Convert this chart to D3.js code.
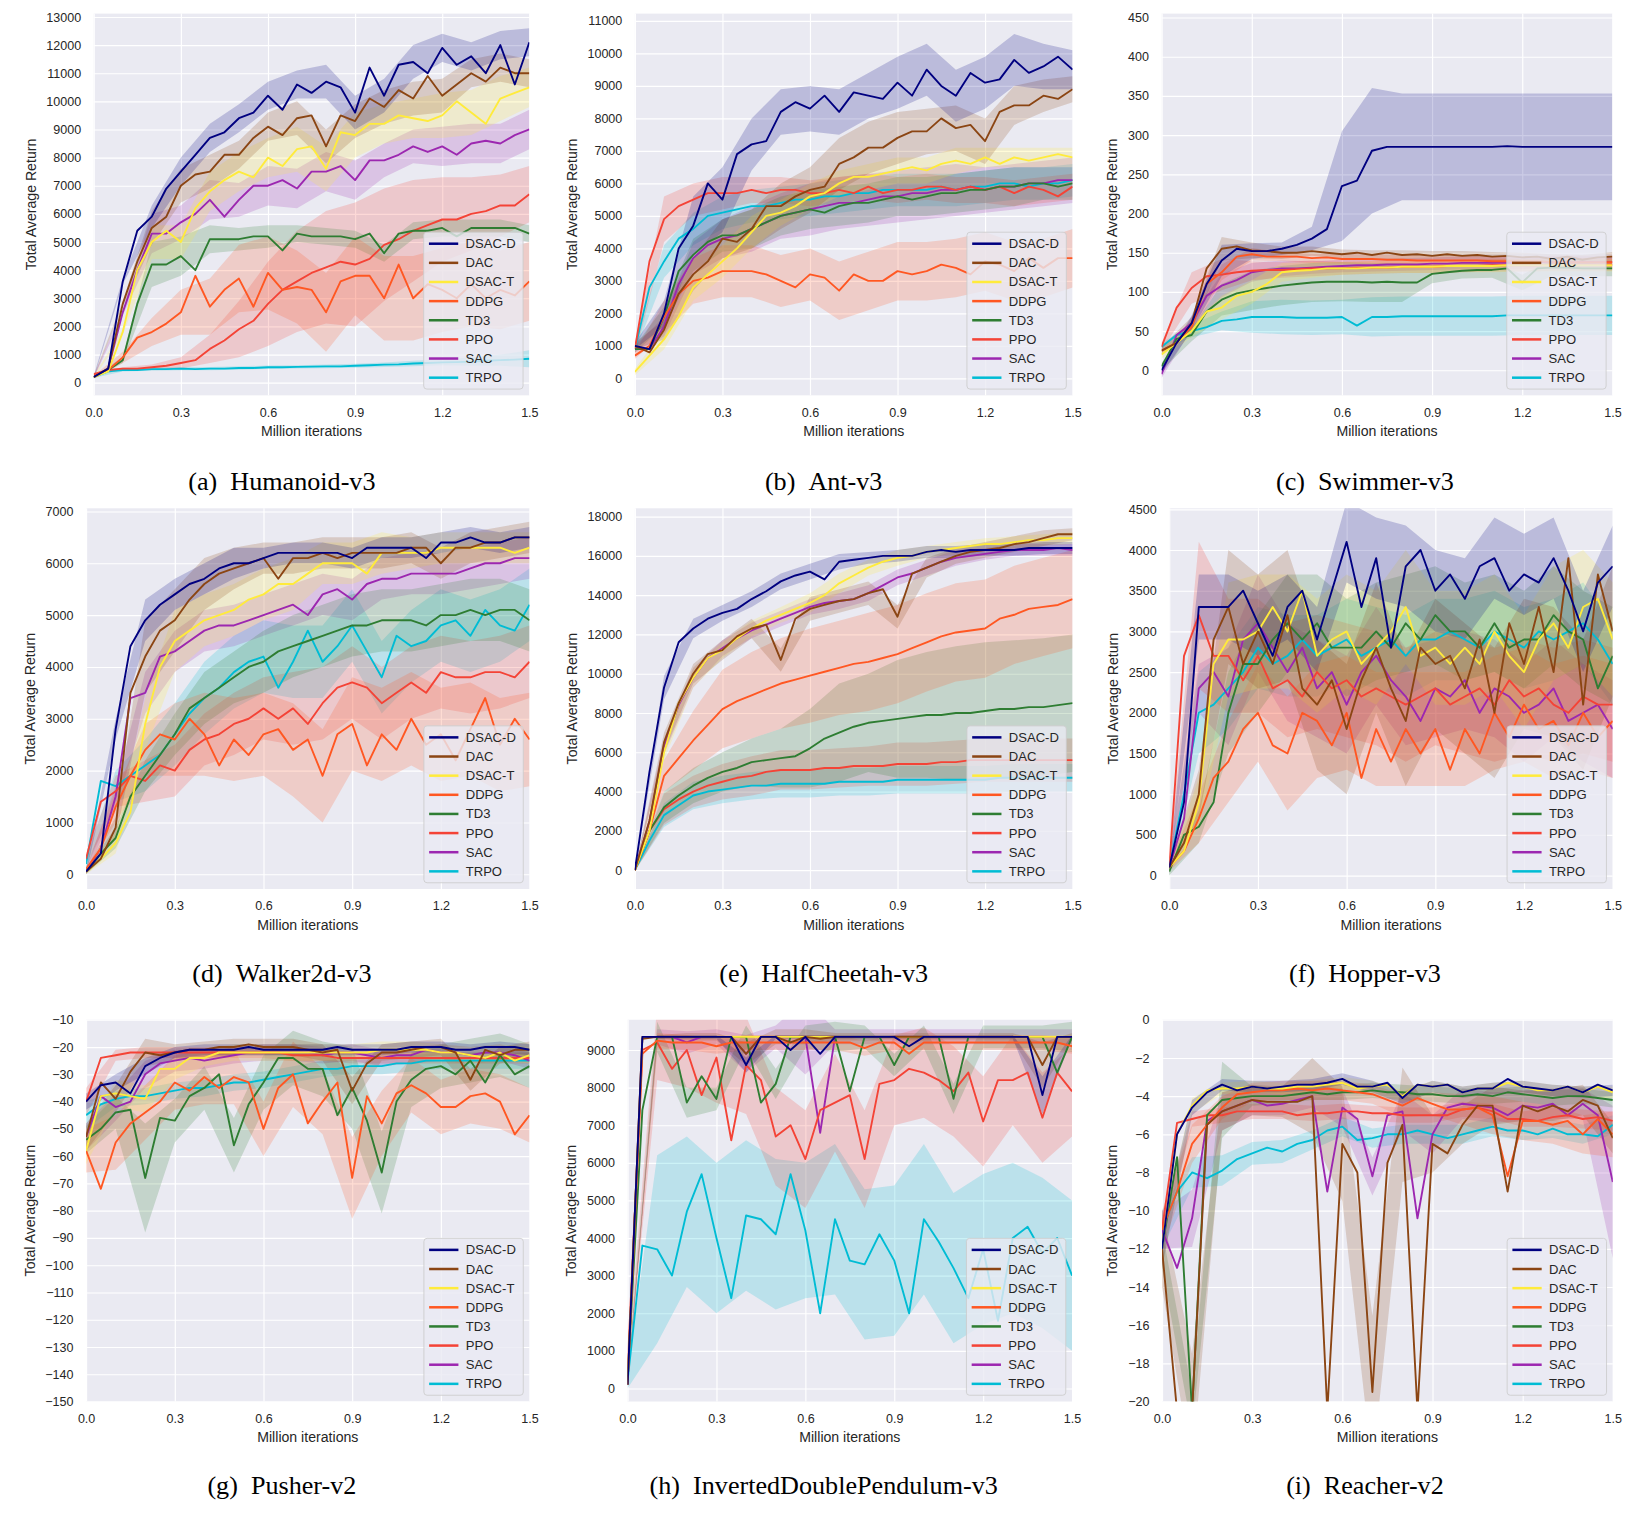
<!DOCTYPE html>
<html lang="en">
<head>
<meta charset="UTF-8">
<title>Training curves on MuJoCo benchmarks</title>
<script src="https://d3js.org/d3.v7.min.js"></script>
<style>
    body { margin: 0; background: #fff; }
    text { font-family: "Liberation Sans", Arial, sans-serif; fill: #262626; }
    .caption { font-family: "Liberation Serif", "Times New Roman", serif; fill: #000; }
</style>
</head>
<body>
<svg id="fig"></svg>
<script>
// ---- data ----
const iterations = [0,0.05,0.1,0.15,0.2,0.25,0.3,0.35,0.4,0.45,0.5,0.55,0.6,0.65,0.7,0.75,0.8,0.85,0.9,0.95,1.0,1.05,1.1,1.15,1.2,1.25,1.3,1.35,1.4,1.45,1.5];
const spreadIterations = [0,0.1,0.2,0.3,0.4,0.5,0.6,0.7,0.8,0.9,1.0,1.1,1.2,1.3,1.4,1.5];
const algorithms = ["DSAC-D", "DAC", "DSAC-T", "DDPG", "TD3", "PPO", "SAC", "TRPO"];
const environments = ["Humanoid-v3", "Ant-v3", "Swimmer-v3", "Walker2d-v3", "HalfCheetah-v3", "Hopper-v3", "Pusher-v2", "InvertedDoublePendulum-v3", "Reacher-v2"];
const panelLetters = ["a", "b", "c", "d", "e", "f", "g", "h", "i"];
const xTicks = [0, 0.3, 0.6, 0.9, 1.2, 1.5];

const humanoidTicks = [0,1000,2000,3000,4000,5000,6000,7000,8000,9000,10000,11000,12000,13000];
const antTicks = [0,1000,2000,3000,4000,5000,6000,7000,8000,9000,10000,11000];
const swimmerTicks = [0,50,100,150,200,250,300,350,400,450];
const walkerTicks = [0,1000,2000,3000,4000,5000,6000,7000];
const cheetahTicks = [0,2000,4000,6000,8000,10000,12000,14000,16000,18000];
const hopperTicks = [0,500,1000,1500,2000,2500,3000,3500,4000,4500];
const pusherTicks = [-150,-140,-130,-120,-110,-100,-90,-80,-70,-60,-50,-40,-30,-20,-10];
const pendulumTicks = [0,1000,2000,3000,4000,5000,6000,7000,8000,9000];
const reacherTicks = [-20,-18,-16,-14,-12,-10,-8,-6,-4,-2,0];

// mean return per algorithm (order of `algorithms`), one value per entry of `iterations`
const humanoidMean = [
  [200,500,3600,5400,5900,6900,7500,8100,8700,8900,9400,9600,10200,9700,10600,10300,10700,10500,9600,11200,10200,11300,11400,11000,11900,11300,11600,11000,12000,10600,12100],
  [200,500,2800,4300,5500,5900,7000,7400,7500,8100,8100,8700,9100,8800,9400,9500,8400,9500,9300,10100,9800,10400,10100,10900,10200,10600,11000,10700,11200,11000,11000],
  [200,400,1800,4000,5000,5400,5000,6200,6800,7200,7500,7300,8000,7700,8300,8400,7600,8900,8800,9200,9200,9500,9400,9300,9500,10000,9600,9200,10100,10300,10500],
  [200,450,900,1600,1800,2100,2500,3800,2700,3300,3700,2700,3900,3300,3400,3300,2500,3600,3800,3800,3000,4200,3000,3500,3300,3000,3500,3000,3300,3100,3600],
  [200,450,800,2800,4200,4200,4500,4000,5100,5100,5100,5200,5200,4700,5300,5200,5200,5200,5100,5300,4600,5300,5400,5400,5500,5200,5500,5500,5500,5500,5300],
  [300,450,500,500,550,600,700,800,1200,1500,1900,2200,2800,3300,3600,3900,4100,4300,4200,4400,4900,5100,5400,5600,5800,5800,6000,6100,6300,6300,6700],
  [200,500,2500,4000,5300,5300,5700,6000,6500,5900,6500,7000,7000,7200,6900,7500,7500,7700,7200,7900,7900,8100,8400,8200,8400,8100,8500,8600,8500,8800,9000],
  [200,400,450,450,480,480,500,480,500,500,520,520,550,550,560,570,580,580,600,620,640,650,680,700,720,730,750,780,800,820,850]
];
// half-width of the shaded band, one value per entry of `spreadIterations`
const humanoidSpread = [
  [50,100,400,500,500,500,500,500,600,600,600,600,500,500,500,500],
  [50,100,600,600,600,500,500,600,600,600,600,600,600,500,500,500],
  [50,100,600,600,700,700,700,800,800,800,700,700,800,800,800,700],
  [50,200,500,800,1000,1200,1300,1300,1400,1400,1500,1500,1500,1500,1400,1400],
  [50,100,800,700,500,400,400,300,300,300,300,300,300,300,300,300],
  [50,50,100,200,500,1000,1500,1800,2000,2200,2000,1800,1500,1300,1100,1000],
  [50,100,700,600,700,600,700,700,700,700,600,600,700,700,700,700],
  [30,50,60,60,60,60,60,60,70,70,80,100,100,150,200,300]
];

const antMean = [
  [1000,900,2000,4000,4700,6000,5500,6900,7200,7300,8200,8500,8300,8700,8200,8800,8700,8600,9100,8700,9500,9000,8700,9400,9100,9200,9800,9400,9600,9900,9500],
  [1000,800,1500,2600,3200,3600,4300,4200,4600,5300,5300,5600,5800,5900,6600,6800,7100,7100,7400,7600,7600,8000,7700,7800,7300,8200,8400,8400,8700,8600,8900],
  [200,700,1200,1900,2800,3200,3600,4000,4500,5000,5100,5300,5600,5700,6000,6200,6200,6300,6400,6500,6400,6600,6700,6600,6800,6600,6800,6700,6800,6900,6800],
  [700,1000,1900,2600,3000,3100,3300,3300,3300,3200,3000,2800,3200,3100,2700,3200,3000,3000,3300,3200,3300,3500,3400,3200,3600,3500,3300,3700,3400,3700,3700],
  [900,900,1900,3300,3800,4200,4400,4400,4600,4800,5000,5100,5200,5100,5300,5400,5400,5500,5600,5500,5600,5700,5700,5800,5800,5900,5900,6000,6000,5900,6000],
  [900,3600,4900,5300,5500,5700,5700,5700,5800,5700,5800,5800,5700,5700,5800,5700,5900,5700,5800,5800,5900,5900,5800,5900,5800,5900,5700,5900,5800,5600,5900],
  [900,900,1600,2900,3700,4100,4300,4400,4600,4800,5000,5100,5200,5300,5400,5400,5500,5600,5600,5700,5700,5800,5800,5900,5800,5900,5900,6000,6000,6100,6100],
  [900,2800,3600,4300,4600,5000,5100,5200,5300,5300,5400,5500,5500,5600,5600,5700,5700,5800,5800,5800,5800,5900,5800,5900,5900,6000,6000,5900,6000,6000,6100]
];
const antSpread = [
  [100,400,900,1000,800,700,700,700,700,800,800,800,800,800,700,600],
  [100,300,500,600,600,700,700,800,800,800,700,700,700,600,500,400],
  [100,300,400,500,500,400,400,400,400,400,400,400,300,300,300,300],
  [100,500,700,800,800,800,800,900,900,900,900,900,900,900,900,900],
  [100,300,500,500,600,600,600,600,600,600,600,600,600,600,500,500],
  [200,700,500,500,400,400,400,400,400,400,400,400,400,400,400,400],
  [100,300,500,600,700,700,800,800,800,800,800,800,700,700,700,700],
  [100,500,500,500,500,500,500,500,500,500,500,500,500,500,500,500]
];

const swimmerMean = [
  [0,35,60,110,140,155,152,152,155,160,168,180,235,242,280,285,285,285,285,285,285,285,285,286,285,285,285,285,285,285,285],
  [25,35,60,130,155,158,153,152,150,150,152,150,148,150,147,150,147,148,146,148,146,147,145,146,144,145,142,145,141,144,145],
  [20,35,50,75,80,95,100,110,125,127,128,130,130,130,131,131,132,132,132,133,133,133,133,134,134,134,134,134,134,134,134],
  [25,35,55,110,125,145,148,145,145,145,143,144,142,142,142,141,141,140,140,140,140,140,139,139,139,139,138,138,138,138,138],
  [5,40,45,75,90,98,102,105,108,110,112,113,113,113,112,113,112,112,123,125,127,128,128,130,112,130,131,131,130,130,130],
  [30,80,105,120,122,125,127,128,128,129,130,130,130,131,131,131,132,132,132,133,133,133,134,134,134,134,135,135,135,135,135],
  [-5,45,60,95,108,115,125,128,130,130,131,132,133,134,134,135,135,135,136,136,137,137,137,137,137,138,138,138,138,138,138],
  [30,45,50,55,63,65,68,68,68,67,67,67,68,57,68,68,69,69,69,69,69,69,69,70,70,70,70,70,70,70,70]
];
const swimmerSpread = [
  [5,10,20,10,8,15,70,80,68,68,68,68,68,68,68,68],
  [5,8,15,10,8,6,6,6,6,6,6,6,6,6,6,6],
  [5,8,15,15,12,10,8,8,8,8,8,8,8,8,8,8],
  [5,8,10,8,6,6,6,6,6,6,6,6,6,6,6,6],
  [5,8,20,25,25,25,25,25,25,12,10,10,10,10,10,10],
  [5,20,20,12,10,10,8,8,8,8,8,8,8,8,8,8],
  [5,8,15,12,10,8,8,8,8,8,8,8,8,8,8,8],
  [5,8,12,20,22,22,22,25,25,25,25,25,25,25,25,25]
];

const walkerMean = [
  [50,400,2800,4400,4900,5200,5400,5600,5700,5900,6000,6000,6100,6200,6200,6200,6200,6200,6100,6300,6300,6300,6300,6100,6400,6400,6500,6400,6400,6500,6500],
  [50,300,900,3500,4200,4700,4900,5300,5600,5800,5900,6000,6100,5700,6100,6100,6200,6100,6200,6200,6200,6200,6300,6300,6000,6300,6300,6400,6400,6500,6500],
  [50,300,600,1200,2900,4000,4500,4700,4900,5000,5100,5300,5400,5600,5600,5800,6000,6000,6000,5800,6200,6200,6200,6200,6300,6300,6300,6300,6300,6200,6300],
  [100,500,1300,1900,2400,2700,2600,3000,2700,2100,2600,2300,2700,2800,2400,2600,1900,2700,2900,2100,2700,2400,3000,2500,2700,2200,2800,3400,2500,3000,2600],
  [50,400,700,1500,1900,2300,2700,3200,3400,3600,3800,4000,4100,4300,4400,4500,4600,4700,4800,4800,4900,4900,4900,4800,5000,5000,5100,5000,5100,5100,4900],
  [300,1400,1600,1900,1800,2100,2000,2400,2600,2700,2900,3000,3200,3000,3200,2900,3300,3600,3700,3600,3300,3500,3700,3500,3900,3800,3800,3900,3900,3800,4100],
  [50,500,1500,3400,3500,4200,4300,4500,4700,4800,4800,4900,5000,5100,5200,5000,5400,5500,5300,5600,5700,5700,5800,5800,5800,5800,5900,6000,6000,6100,6100],
  [200,1800,1700,1900,2100,2300,2700,3100,3400,3600,3900,4100,4200,3600,4100,4700,4100,4400,4800,4300,3800,4600,4400,4500,4800,4900,4600,5100,4800,4700,5200]
];
const walkerSpread = [
  [50,200,400,300,300,300,200,200,200,200,200,200,200,200,200,200],
  [50,200,700,600,500,400,300,300,300,300,300,300,300,300,300,300],
  [50,200,500,600,500,500,500,500,400,400,400,300,300,300,300,300],
  [50,300,500,700,800,800,800,900,900,900,900,900,900,900,900,900],
  [50,200,300,400,500,500,600,600,600,600,600,600,600,600,600,600],
  [100,300,400,500,500,600,600,700,700,700,700,700,700,700,700,700],
  [50,200,400,400,400,400,400,400,400,400,400,400,400,400,400,400],
  [100,300,500,600,700,700,700,700,700,700,700,700,700,700,700,700]
];

const cheetahMean = [
  [0,5000,9300,11600,12300,12800,13100,13300,13800,14200,14700,15000,15200,14800,15700,15800,15900,16000,16000,16000,16200,16300,16200,16300,16300,16300,16300,16400,16400,16400,16400],
  [0,2500,6500,8500,10000,11000,11200,11900,12300,12500,10700,12800,13300,13500,13700,13800,14100,14300,12900,15100,15400,15700,16000,16200,16300,16400,16600,16700,16900,17100,17100],
  [0,2000,6000,8500,9800,10800,11200,11800,12300,12700,13000,13300,13600,14000,14600,15000,15400,15700,15900,16000,16200,16300,16400,16500,16600,16600,16700,16800,16800,16900,16900],
  [0,2000,4800,5700,6600,7400,8200,8600,8900,9200,9500,9700,9900,10100,10300,10500,10600,10800,11000,11300,11600,11900,12100,12200,12300,12800,13000,13300,13400,13500,13800],
  [0,2000,3200,3800,4300,4700,5000,5200,5500,5600,5700,5800,6200,6700,7000,7300,7500,7600,7700,7800,7900,7900,8000,8000,8100,8200,8200,8300,8300,8400,8500],
  [0,2000,3100,3600,4000,4300,4500,4700,4800,5000,5100,5100,5100,5200,5200,5300,5300,5300,5400,5400,5400,5500,5500,5600,5600,5600,5600,5600,5600,5600,5600],
  [0,2500,6300,8400,9800,10800,11300,11800,12200,12500,12800,13100,13400,13600,13700,13800,14100,14500,14900,15100,15400,15700,15900,16000,16100,16200,16300,16300,16300,16400,16300],
  [0,1500,2800,3300,3800,4000,4100,4200,4300,4300,4400,4400,4400,4400,4500,4500,4500,4500,4600,4600,4600,4600,4600,4600,4600,4700,4700,4700,4700,4700,4700]
];
const cheetahSpread = [
  [50,600,500,400,400,400,400,400,300,300,300,300,300,300,300,300],
  [50,500,500,500,500,600,600,600,600,600,500,400,400,400,400,300],
  [50,400,500,400,400,400,500,500,400,400,300,300,300,300,300,300],
  [50,800,1500,2000,2200,2300,2400,2400,2500,2500,2500,2500,2500,2500,2500,2500],
  [50,800,900,1000,1200,1500,2000,2500,2500,3000,3200,3400,3500,3500,3500,3500],
  [50,800,800,900,1000,1000,1000,1000,1000,1100,1100,1100,1100,1100,1100,1100],
  [50,400,500,400,400,400,400,400,400,400,400,400,300,300,300,300],
  [50,600,700,700,700,700,700,700,700,700,700,700,700,700,700,700]
];

const hopperMean = [
  [100,900,3300,3300,3300,3500,3100,2700,3300,3500,2900,3500,4100,3300,3900,2800,3800,4000,3500,3700,3400,3800,3900,3500,3700,3600,3900,3500,3000,3600,3800],
  [100,400,1000,2900,3300,2600,3000,2600,3200,2300,2100,2400,1800,2400,2800,2300,1900,2800,2600,2700,2300,2900,2000,3100,2600,3300,2500,3900,2100,3700,3000],
  [100,300,900,2600,2900,2900,3000,3300,3000,3500,2700,2900,3000,2600,2800,3000,3300,2700,2800,2600,2800,2600,3000,2700,2500,2900,3100,2800,3300,3400,2900],
  [100,300,700,1200,1400,1800,2000,1600,1500,2000,1900,1600,2000,1200,1800,1400,1800,1500,1800,1300,1800,1500,2000,1700,2100,1800,1900,1600,2000,1700,1900],
  [50,500,600,900,2000,2600,2600,2900,3100,2900,3100,2800,2800,2800,3000,2800,3100,2900,3200,3000,3000,2800,3100,2800,2900,2900,3200,3000,2900,2300,2700],
  [100,2700,3200,2700,2700,2400,2700,2300,2400,2200,2500,2300,2400,2200,2300,2200,2100,2200,2300,2100,2200,2300,2100,2400,2200,2300,2100,2000,2200,2100,2100],
  [100,700,2300,2500,2200,2900,3100,2800,2500,2800,2300,2500,2100,2500,2700,2400,2200,1900,2300,2200,2400,2000,2300,2200,2000,2100,2300,1900,2000,2100,1800],
  [100,1000,2000,2100,2300,2500,2800,2600,2700,2900,2700,2800,2900,2700,2800,2900,2700,2900,2900,3000,2900,2800,3000,2900,2800,3000,2900,3000,3100,2900,2600]
];
const hopperSpread = [
  [50,400,400,400,400,400,500,500,500,500,500,500,500,500,500,500],
  [50,300,700,700,800,800,800,800,800,800,800,800,800,800,800,800],
  [50,300,700,700,700,700,700,700,700,700,700,700,700,700,700,700],
  [50,300,500,600,700,700,700,700,700,700,700,700,700,700,700,700],
  [50,200,500,600,600,600,600,600,600,600,600,600,600,600,600,600],
  [100,900,700,700,700,700,700,700,700,700,700,700,700,700,700,700],
  [50,300,600,600,600,600,600,600,600,600,600,600,600,600,600,600],
  [100,500,500,500,500,500,500,500,500,500,500,500,500,500,500,500]
];

const pusherMean = [
  [-40,-34,-33,-37,-27,-24,-22,-21,-21,-21,-21,-20,-21,-21,-21,-21,-21,-20,-21,-21,-21,-21,-20,-20,-20,-21,-21,-20,-20,-20,-21],
  [-53,-33,-39,-29,-22,-23,-22,-21,-21,-20,-20,-19,-20,-20,-20,-21,-22,-21,-36,-26,-22,-22,-21,-20,-20,-22,-32,-21,-23,-21,-21],
  [-58,-38,-37,-38,-39,-28,-28,-24,-24,-22,-22,-22,-22,-22,-22,-22,-22,-22,-22,-22,-21,-21,-21,-21,-22,-22,-23,-24,-22,-25,-23],
  [-58,-72,-55,-48,-44,-40,-33,-36,-31,-35,-31,-33,-50,-35,-30,-48,-40,-33,-68,-38,-48,-37,-34,-37,-42,-42,-38,-37,-40,-52,-45],
  [-54,-50,-44,-43,-68,-46,-47,-38,-35,-30,-56,-41,-33,-24,-24,-28,-28,-45,-35,-47,-66,-40,-32,-28,-27,-30,-25,-33,-23,-30,-27],
  [-40,-24,-23,-22,-22,-22,-22,-22,-22,-22,-22,-22,-22,-22,-23,-23,-23,-24,-24,-24,-24,-24,-24,-24,-24,-24,-24,-24,-24,-24,-24],
  [-53,-38,-42,-40,-30,-26,-25,-24,-25,-24,-23,-22,-22,-22,-22,-22,-23,-22,-22,-23,-24,-23,-23,-21,-22,-22,-23,-22,-22,-23,-25],
  [-45,-41,-39,-38,-38,-37,-36,-35,-35,-34,-33,-33,-32,-31,-30,-29,-28,-28,-27,-27,-27,-26,-26,-25,-25,-25,-25,-25,-25,-25,-25]
];
const pusherSpread = [
  [3,3,3,2,2,2,2,2,2,2,2,2,2,2,2,2],
  [5,5,5,3,3,3,3,3,3,5,3,3,3,4,3,3],
  [5,5,5,4,3,3,3,3,3,3,3,3,3,3,3,3],
  [8,10,10,10,10,10,10,12,12,15,12,10,10,10,10,10],
  [5,6,20,8,8,10,10,10,10,15,15,10,8,8,8,8],
  [5,2,2,2,2,2,2,2,2,2,2,2,2,2,2,2],
  [5,5,5,4,3,3,3,3,3,3,3,3,3,3,3,3],
  [5,3,3,3,3,3,3,3,3,3,3,3,3,3,3,3]
];

const pendulumMean = [
  [100,9350,9350,9350,9350,9350,9350,9350,8600,9350,9350,9000,9350,8900,9350,9350,9350,9350,9350,9100,9350,9350,9350,9350,9350,9350,9350,9350,7800,9350,9350],
  [100,9300,9350,9350,9350,9350,9350,9350,8900,9350,9350,9200,9350,9300,9350,9350,9350,9350,9350,9350,9350,9350,9350,9350,9350,9350,9350,9350,8600,9350,9350],
  [100,9350,9350,9350,9350,9350,9350,9350,9350,9350,9350,9350,9350,9350,9350,9350,9350,9350,9350,9350,9350,9350,9350,9350,9350,9350,9350,9350,9350,9350,9350],
  [100,8900,9250,9200,9200,9200,9100,9200,9200,9200,9200,9200,9200,9200,9200,9200,9050,9200,9200,8900,9200,9200,9200,9200,9200,9200,9200,9200,9200,9200,9100],
  [300,7400,9350,9350,7600,8300,7700,9350,9350,7600,8100,9350,9350,9350,9350,7900,9350,9350,8600,9350,9350,9350,7700,9350,9350,9350,9350,9350,9350,8400,9350],
  [500,9000,9200,8500,9000,7800,8800,6600,8600,8200,6700,7000,6100,7400,7600,7800,6100,8100,8200,8500,8400,8200,7900,8400,7100,8200,8200,8400,7200,8400,7900],
  [100,9350,9350,9350,9200,9350,9350,9350,8900,9350,9350,9350,9350,6800,9350,9350,9350,9350,9350,9350,9350,9350,9350,9350,9350,9350,9350,9350,9350,9350,9350],
  [200,3800,3700,3000,4700,5700,4000,2400,4600,4500,4100,5700,4200,2000,4500,3400,3300,4100,3400,2000,4500,3900,3200,2400,3700,1800,4000,4300,3600,4000,3000]
];
const pendulumSpread = [
  [50,50,50,50,200,50,50,50,50,50,50,50,50,50,500,50],
  [50,50,100,100,300,200,200,100,100,100,100,100,100,100,600,100],
  [50,50,50,50,50,50,50,50,50,50,50,50,50,50,50,50],
  [50,200,200,200,200,200,200,200,200,200,200,200,200,200,200,200],
  [50,400,400,300,300,400,300,400,300,300,300,400,300,300,300,400],
  [200,1000,1000,1200,1300,1300,1300,1300,1300,1200,1200,1200,1200,1200,1200,1200],
  [50,200,300,200,500,300,1000,200,200,200,200,200,200,200,200,200],
  [200,2500,2000,2000,2000,2000,1800,2000,2000,2000,2000,2000,2000,2000,2000,2000]
];

const reacherMean = [
  [-12,-6,-4.6,-3.8,-3.4,-3.7,-3.5,-3.6,-3.5,-3.4,-3.4,-3.3,-3.1,-3.5,-3.5,-3.3,-4.1,-3.4,-3.5,-3.4,-3.8,-3.6,-3.6,-3.1,-3.5,-3.6,-3.7,-3.5,-3.8,-3.4,-3.7],
  [-12,-20.5,-20.5,-5.5,-4.8,-4.5,-4.2,-4.3,-4.3,-4.3,-4,-20.5,-6.5,-8,-19.5,-7.5,-5.5,-20.5,-6.5,-7,-5.5,-4.5,-4.5,-9,-4.5,-4.8,-4.5,-4.8,-4.2,-4.5,-6.2],
  [-12,-6,-4.5,-3.7,-3.6,-3.6,-3.5,-3.6,-3.6,-3.5,-3.5,-3.4,-3.3,-3.6,-3.5,-3.4,-4,-3.4,-3.5,-3.4,-3.8,-3.6,-3.6,-3.3,-3.5,-3.7,-3.7,-3.5,-3.8,-3.5,-3.8],
  [-11,-9,-6.5,-5.5,-4.6,-3.9,-3.8,-3.7,-3.7,-3.6,-3.7,-3.6,-3.7,-3.8,-3.9,-4.2,-4.5,-4.1,-4.4,-4.7,-4.7,-4.6,-5,-8.2,-5.3,-5.3,-5.5,-5.3,-6,-5.2,-6],
  [-12,-7.2,-20.5,-5,-4.2,-4.1,-4,-4,-4,-3.9,-3.8,-3.9,-3.8,-3.8,-3.7,-3.8,-3.8,-3.9,-3.9,-4,-4,-3.9,-4,-3.8,-3.9,-4,-4.1,-4,-4,-4.1,-4.2],
  [-11,-5.4,-5.2,-5,-5,-4.8,-4.8,-4.8,-4.8,-5,-4.9,-4.9,-4.8,-4.8,-4.9,-4.9,-5,-5,-5,-5,-4.7,-4.6,-4.8,-5.2,-5.2,-5.3,-5.1,-5,-5.2,-5.1,-5.3],
  [-11,-13,-10.4,-5.3,-4.8,-4.5,-4.2,-4.5,-4.4,-4.2,-4,-9,-4.6,-5.2,-8.2,-5,-4.8,-10.4,-6,-4.6,-4.4,-4.5,-4.6,-5,-4.5,-4.6,-4.4,-5,-4.4,-5,-8.5],
  [-11,-9,-8,-8.3,-7.9,-7.3,-7,-6.7,-6.9,-6.5,-6.3,-5.8,-5.6,-6.3,-6.2,-6,-6,-5.8,-6,-6.2,-6,-5.8,-5.6,-5.8,-5.8,-6,-5.7,-6,-6,-6.1,-5.5]
];
const reacherSpread = [
  [1,0.4,0.3,0.3,0.3,0.3,0.3,0.3,0.3,0.3,0.3,0.3,0.3,0.3,0.3,0.3],
  [2,3,1,0.8,0.8,2,3,4,3,1.5,1,1,0.8,0.8,0.8,0.8],
  [1,0.4,0.3,0.3,0.3,0.3,0.3,0.3,0.3,0.3,0.3,0.3,0.3,0.3,0.3,0.3],
  [1,1,0.6,0.5,0.5,0.5,0.5,0.5,0.6,0.6,0.8,1,1,1,1,1.2],
  [1,1,2,0.5,0.4,0.4,0.4,0.4,0.4,0.4,0.4,0.4,0.4,0.4,0.4,0.4],
  [0.5,0.4,0.4,0.4,0.4,0.4,0.4,0.4,0.4,0.4,0.4,0.4,0.4,0.5,0.5,0.5],
  [1,1.5,1,0.8,0.6,0.6,1,1,1,1,0.8,0.8,0.8,0.8,0.8,4],
  [1,0.8,0.8,0.6,0.6,0.5,0.5,0.5,0.5,0.5,0.5,0.5,0.5,0.5,0.5,0.5]
];

const meanSets = [humanoidMean, antMean, swimmerMean, walkerMean, cheetahMean, hopperMean, pusherMean, pendulumMean, reacherMean];
const spreadSets = [humanoidSpread, antSpread, swimmerSpread, walkerSpread, cheetahSpread, hopperSpread, pusherSpread, pendulumSpread, reacherSpread];
const tickSets = [humanoidTicks, antTicks, swimmerTicks, walkerTicks, cheetahTicks, hopperTicks, pusherTicks, pendulumTicks, reacherTicks];

// ---- styling and layout (drawing units: 1568 x 1459, shown at 1640 x 1526) ----
const algoColors = ["#000080", "#8B4513", "#FFEB3B", "#FF5722", "#2E7D32", "#F44336", "#9C27B0", "#00BCD4"];
const layout = [
    {left: 89.6, top: 13, width: 416.5, height: 365, yDomain: [-451, 13119]},
    {left: 607, top: 13, width: 418.5, height: 365, yDomain: [-522, 11225]},
    {left: 1110.6, top: 13, width: 431, height: 365, yDomain: [-32, 455]},
    {left: 82.3, top: 486, width: 424, height: 364, yDomain: [-285, 7060]},
    {left: 607, top: 486, width: 418.5, height: 364, yDomain: [-963, 18420]},
    {left: 1117.9, top: 486, width: 424, height: 364, yDomain: [-165, 4512]},
    {left: 82.3, top: 975, width: 424, height: 365, yDomain: [-150, -10]},
    {left: 600, top: 975, width: 425, height: 365, yDomain: [-348, 9804]},
    {left: 1111, top: 975, width: 431, height: 365, yDomain: [-20, 0]}
];
const captionX = [269.5, 787.5, 1305];
const captionY = [460, 931, 1420];

const svg = d3.select("#fig")
    .attr("width", 1640)
    .attr("height", 1526)
    .attr("viewBox", "0 0 1568 1459");

environments.forEach((env, p) => {
    const L = layout[p];
    const bottom = L.top + L.height;
    const right = L.left + L.width;
    const x = d3.scaleLinear().domain([0, 1.5]).range([L.left, right]);
    const y = d3.scaleLinear().domain(L.yDomain).range([bottom, L.top]);
    const g = svg.append("g");

    g.append("rect")
        .attr("x", L.left).attr("y", L.top)
        .attr("width", L.width).attr("height", L.height)
        .attr("fill", "#EAEAF2");

    // white grid
    g.append("g").attr("class", "grid")
        .attr("transform", `translate(${L.left},0)`)
        .call(d3.axisLeft(y).tickValues(tickSets[p]).tickSize(-L.width).tickFormat(""));
    g.append("g").attr("class", "grid")
        .attr("transform", `translate(0,${bottom})`)
        .call(d3.axisBottom(x).tickValues(xTicks).tickSize(-L.height).tickFormat(""));
    g.selectAll(".grid .domain").remove();
    g.selectAll(".grid line").attr("stroke", "#fff").attr("stroke-width", 1.1);

    svg.append("clipPath").attr("id", "clip" + p)
        .append("rect")
        .attr("x", L.left).attr("y", L.top)
        .attr("width", L.width).attr("height", L.height);
    const plot = g.append("g").attr("clip-path", `url(#clip${p})`);

    const means = meanSets[p];
    const spreads = spreadSets[p];
    const order = d3.range(algorithms.length).reverse();

    const area = d3.area()
        .x((d, k) => x(spreadIterations[k]))
        .y0(d => y(d[0]))
        .y1(d => y(d[1]));
    order.forEach(a => {
        const band = spreads[a].map((s, k) => [means[a][2 * k] - s, means[a][2 * k] + s]);
        plot.append("path")
            .datum(band)
            .attr("d", area)
            .attr("fill", algoColors[a])
            .attr("fill-opacity", 0.2);
    });

    const line = d3.line()
        .x((d, k) => x(iterations[k]))
        .y(d => y(d));
    order.forEach(a => {
        plot.append("path")
            .datum(means[a])
            .attr("d", line)
            .attr("fill", "none")
            .attr("stroke", algoColors[a])
            .attr("stroke-width", 1.8)
            .attr("stroke-linejoin", "round");
    });

    // tick labels
    const yAxis = g.append("g")
        .attr("transform", `translate(${L.left},0)`)
        .call(d3.axisLeft(y).tickValues(tickSets[p]).tickSize(0).tickPadding(12).tickFormat(d3.format("d")));
    const xAxis = g.append("g")
        .attr("transform", `translate(0,${bottom})`)
        .call(d3.axisBottom(x).tickValues(xTicks).tickSize(0).tickPadding(12).tickFormat(d3.format(".1f")));
    [yAxis, xAxis].forEach(ax => {
        ax.select(".domain").remove();
        ax.attr("font-size", null).attr("font-family", null);
        ax.selectAll("text").attr("font-size", 12).attr("fill", "#262626");
    });

    let maxW = 0;
    yAxis.selectAll("text").each(function () { maxW = Math.max(maxW, this.getComputedTextLength()); });

    g.append("text")
        .attr("transform", `translate(${L.left - 12 - maxW - 15},${L.top + L.height / 2}) rotate(-90)`)
        .attr("text-anchor", "middle")
        .attr("dominant-baseline", "central")
        .attr("font-size", 13.5)
        .text("Total Average Return");

    g.append("text")
        .attr("x", (L.left + right) / 2)
        .attr("y", bottom + 39)
        .attr("text-anchor", "middle")
        .attr("font-size", 13.5)
        .text("Million iterations");

    // legend
    const lg = g.append("g")
        .attr("transform", `translate(${right - 6 - 95},${bottom - 6 - 150})`);
    lg.append("rect")
        .attr("width", 95).attr("height", 150).attr("rx", 3)
        .attr("fill", "#EAEAF2").attr("fill-opacity", 0.8)
        .attr("stroke", "#CCCCCC").attr("stroke-width", 0.8);
    algorithms.forEach((name, a) => {
        const ly = 11 + a * 18.3;
        lg.append("line")
            .attr("x1", 5).attr("x2", 33).attr("y1", ly).attr("y2", ly)
            .attr("stroke", algoColors[a]).attr("stroke-width", 2.4);
        lg.append("text")
            .attr("x", 40).attr("y", ly)
            .attr("dominant-baseline", "central")
            .attr("font-size", 12.5)
            .text(name);
    });

    svg.append("text")
        .attr("class", "caption")
        .attr("x", captionX[p % 3])
        .attr("y", captionY[Math.floor(p / 3)])
        .attr("text-anchor", "middle")
        .attr("dominant-baseline", "central")
        .attr("font-size", 25)
        .text(`(${panelLetters[p]})\u2002${env}`);
});
</script>
</body>
</html>
